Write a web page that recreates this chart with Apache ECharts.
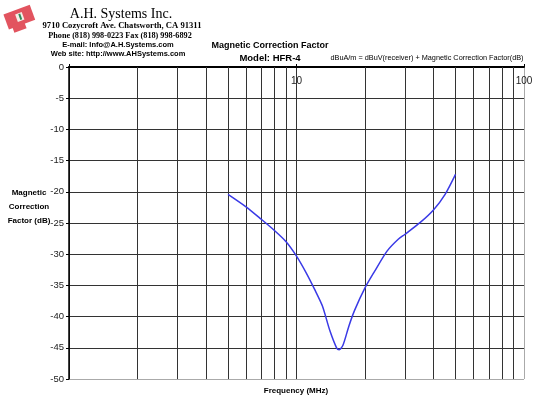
<!DOCTYPE html>
<html>
<head>
<meta charset="utf-8">
<script src="https://cdn.jsdelivr.net/npm/echarts@6/dist/echarts.min.js"></script>
<style>
  html, body { margin: 0; padding: 0; background: #fff; }
  #chart { width: 540px; height: 400px; }
</style>
</head>
<body>
<div id="chart"></div>
<script>
// frequency in MHz and magnetic correction factor in dB
const freqMHz = [5, 6, 7, 8, 9, 10, 11, 12, 13, 14, 15, 15.4, 16, 17, 18, 20, 22, 25, 28, 30, 35, 40, 45, 50];
const factorDb = [-20.4, -22.4, -24.4, -26.2, -28.0, -30.3, -32.9, -35.6, -38.3, -42.2, -45.0, -45.3, -44.6, -41.5, -39.0, -35.4, -32.8, -29.5, -27.6, -26.8, -24.9, -22.9, -20.4, -17.2];

// minor decade grid lines on the log axis
const minorFreqs = [2, 3, 4, 5, 6, 7, 8, 9, 20, 30, 40, 50, 60, 70, 80, 90];
const xLabels = { 10: "10", 100: "100" };

const serif = "'Liberation Serif', 'DejaVu Serif', serif";
const sans = "'Liberation Sans', Arial, sans-serif";

const chart = echarts.init(document.getElementById("chart"), null, { renderer: "canvas" });

const txt = (text, x, y, size, opts = {}) => ({
  type: "text",
  x, y,
  silent: true,
  style: {
    text,
    font: `${opts.weight || "bold"} ${size}px ${opts.family || sans}`,
    fill: opts.color || "#000",
    align: opts.align || "center",
    verticalAlign: "middle",
  },
});

chart.setOption({
  backgroundColor: "#fff",
  animation: false,
  grid: { left: 69, right: 16, top: 67, bottom: 21 },
  xAxis: {
    type: "log",
    logBase: 10,
    min: 1,
    max: 100,
    position: "top",
    axisLine: { lineStyle: { color: "#000", width: 2 } },
    axisTick: { show: true, length: 3, lineStyle: { color: "#000" } },
    axisLabel: {
      inside: true,
      margin: 9,
      color: "#222",
      fontSize: 10,
      fontFamily: sans,
      formatter: (v) => xLabels[Math.round(v)] || "",
    },
    splitLine: { show: true, lineStyle: { color: ["#333", "#333", "#aaa"], width: 1 } },
  },
  yAxis: {
    type: "value",
    min: -50,
    max: 0,
    interval: 5,
    axisLine: { show: true, lineStyle: { color: "#000", width: 1.5 } },
    axisTick: { show: true, length: 3, lineStyle: { color: "#000" } },
    axisLabel: { color: "#222", fontSize: 9.5, fontFamily: sans, margin: 5 },
    splitLine: {
      show: true,
      lineStyle: { color: ["#aaa", "#333", "#333", "#333", "#333", "#333", "#333", "#333", "#333", "#333", "#333"], width: 1 },
    },
  },
  series: [
    {
      type: "line",
      data: freqMHz.map((f, i) => [f, factorDb[i]]),
      smooth: 0.25,
      showSymbol: false,
      lineStyle: { color: "#3a3ae6", width: 1.5 },
      z: 5,
      markLine: {
        silent: true,
        symbol: "none",
        label: { show: false },
        lineStyle: { color: "#333", width: 1, type: "solid" },
        data: minorFreqs.map((f) => ({ xAxis: f })),
        z: 1,
      },
    },
  ],
  graphic: [
    // logo
    {
      type: "group",
      x: 20, y: 19, rotation: 0.35,
      children: [
        { type: "rect", shape: { x: -14, y: -10, width: 28, height: 16 }, style: { fill: "#e2545f" } },
        { type: "rect", shape: { x: -10, y: 3, width: 13, height: 8 }, style: { fill: "#e2545f" } },
        { type: "rect", shape: { x: -3, y: -6, width: 7, height: 8 }, style: { fill: "#f4f0e8" } },
        { type: "rect", shape: { x: 0, y: -5, width: 2, height: 6 }, style: { fill: "#2d8a5a" } },
      ],
    },
    txt("A.H. Systems Inc.", 121, 14, 14, { weight: "normal", family: serif }),
    txt("9710 Cozycroft Ave. Chatsworth, CA 91311", 122, 26, 8.6, { family: serif }),
    txt("Phone (818) 998-0223 Fax (818) 998-6892", 120, 36, 8.2, { family: serif }),
    txt("E-mail: Info@A.H.Systems.com", 118, 45, 7.5),
    txt("Web site: http://www.AHSystems.com", 118, 54, 7.5),
    txt("Magnetic Correction Factor", 270, 46, 9),
    txt("Model: HFR-4", 270, 58, 9.5),
    txt("dBuA/m = dBuV(receiver) + Magnetic Correction Factor(dB)", 427, 58, 7.3, { weight: "normal" }),
    txt("Magnetic", 29, 193, 8),
    txt("Correction", 29, 207, 8),
    txt("Factor (dB)", 29, 221, 8),
    txt("Frequency (MHz)", 296, 391, 8),
  ],
});
</script>
</body>
</html>
